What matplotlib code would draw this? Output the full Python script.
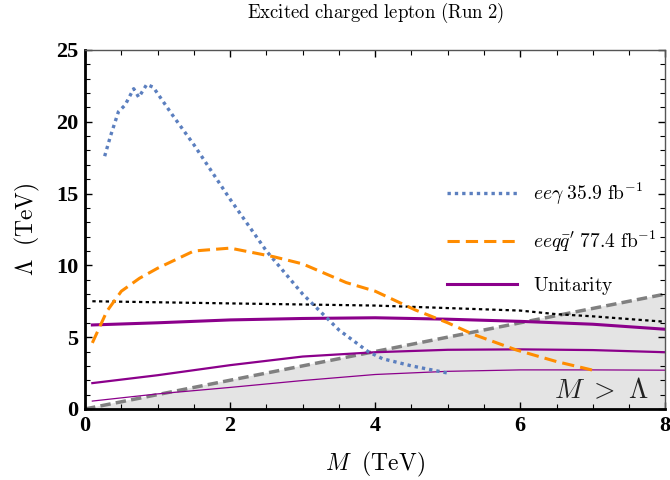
import numpy as np
import matplotlib
matplotlib.use("Agg")
import matplotlib.pyplot as plt
from matplotlib.lines import Line2D
from matplotlib.ticker import MultipleLocator

plt.rcParams['mathtext.fontset'] = 'cm'
plt.rcParams['font.family'] = ['Liberation Serif', 'DejaVu Serif']

# data
eeg_M = [0.27, 0.35, 0.46, 0.55, 0.67, 0.74, 0.85, 0.94, 1.2, 1.5, 2.0, 2.5, 3.0, 3.5, 3.9, 4.1, 4.5, 5.0]
eeg_L = [17.6, 19.0, 20.7, 21.15, 22.3, 21.7, 22.6, 22.4, 20.5, 18.4, 14.6, 11.0, 8.0, 5.5, 4.0, 3.5, 3.0, 2.5]

eeqq_M = [0.1, 0.3, 0.5, 0.75, 1.0, 1.5, 2.0, 2.6, 3.0, 3.6, 4.0, 4.55, 5.0, 5.35, 5.95, 6.5, 7.0]
eeqq_L = [4.6, 6.8, 8.2, 9.1, 9.8, 11.0, 11.2, 10.6, 10.1, 8.8, 8.2, 6.9, 6.0, 5.2, 4.1, 3.3, 2.7]

blk_M = [0.1, 2.0, 4.0, 6.0, 6.5, 7.0, 8.0]
blk_L = [7.5, 7.35, 7.2, 6.85, 6.6, 6.45, 6.07]

u1_M = [0.1, 1.0, 2.0, 3.0, 4.0, 5.0, 6.0, 7.0, 8.0]
u1_L = [5.85, 6.0, 6.2, 6.3, 6.35, 6.25, 6.1, 5.9, 5.55]
u2_M = [0.1, 1.0, 2.0, 3.0, 4.0, 5.0, 6.0, 7.0, 8.0]
u2_L = [1.8, 2.35, 3.05, 3.65, 3.95, 4.12, 4.15, 4.1, 3.95]
u3_M = [0.1, 1.0, 2.0, 3.0, 4.0, 5.0, 6.0, 7.0, 8.0]
u3_L = [0.55, 1.05, 1.5, 1.98, 2.4, 2.62, 2.72, 2.72, 2.7]

diag_M = [0.0, 8.0]

labels = [r'$ee\gamma\ 35.9\ \mathrm{fb}^{-1}$', r"$ee q\bar{q}'\ 77.4\ \mathrm{fb}^{-1}$", r'$\mathrm{Unitarity}$']

fig = plt.figure(figsize=(6.7, 4.8), dpi=100)
ax = fig.add_axes([0.127, 0.148, 0.866, 0.748])

ax.fill_between(diag_M, [0, 0], diag_M, color='#e4e4e4', zorder=0)
ax.plot(diag_M, diag_M, color='#808080', lw=2.5, ls=(0, (3, 1.5)), zorder=1)

ax.plot(blk_M, blk_L, color='black', lw=1.6, ls=(0, (1.5, 1.5)), zorder=2)
ax.plot(u1_M, u1_L, color='#8b008b', lw=2.2, zorder=2)
ax.plot(u2_M, u2_L, color='#8b008b', lw=1.6, zorder=2)
ax.plot(u3_M, u3_L, color='#8b008b', lw=0.9, zorder=2)
ax.plot(eeg_M, eeg_L, color='#5b7fbf', lw=2.4, ls=(0, (1, 1.2)), zorder=3)
ax.plot(eeqq_M, eeqq_L, color='#ff8c00', lw=2.2, ls=(0, (4, 2)), zorder=3)

ax.set_xlim(0, 8)
ax.set_ylim(0, 25)
ax.xaxis.set_major_locator(MultipleLocator(2))
ax.xaxis.set_minor_locator(MultipleLocator(0.5))
ax.yaxis.set_major_locator(MultipleLocator(5))
ax.yaxis.set_minor_locator(MultipleLocator(1))
ax.tick_params(which='both', direction='in', top=True, right=True)
ax.tick_params(which='major', length=5, width=1.0, labelsize=16)
ax.tick_params(which='minor', length=3.5, width=0.8)
for lab in ax.get_xticklabels() + ax.get_yticklabels():
    lab.set_fontweight('bold')
ax.tick_params(axis='x', pad=5)
ax.tick_params(axis='y', pad=5)
for s in ['left', 'bottom']:
    ax.spines[s].set_linewidth(2.0)
for s in ['top', 'right']:
    ax.spines[s].set_linewidth(1.0)
    ax.spines[s].set_color('#555555')

ax.set_xlabel(r'$M\ \ (\mathrm{TeV})$', fontsize=17, labelpad=10)
ax.set_ylabel(r'$\Lambda\ \ (\mathrm{TeV})$', fontsize=17, labelpad=10)
fig.text(0.5 * (0.127 + 0.993), 1 - 13 / 480, r'$\mathrm{Excited\ charged\ lepton\ (Run\ 2)}$',
         fontsize=13.5, ha='center', va='center')

ax.text(0.972, 0.012, r'$M\ >\ \Lambda$', transform=ax.transAxes, ha='right', va='bottom', fontsize=20, color='#222222')

handles = [Line2D([], [], color='#5b7fbf', lw=2.4, ls=(0, (1, 1.2))),
           Line2D([], [], color='#ff8c00', lw=2.2, ls=(0, (4, 2))),
           Line2D([], [], color='#8b008b', lw=2.2)]
ypos = [0.599, 0.468, 0.343]
for i, (h, lab, y) in enumerate(zip(handles, labels, ypos)):
    leg = ax.legend([h], [lab], loc='center left', bbox_to_anchor=(0.624, y), frameon=False,
                    fontsize=14, handlelength=3.6, handletextpad=0.8, borderaxespad=0, borderpad=0)
    if i < 2:
        ax.add_artist(leg)

fig.savefig('out.png', dpi=100)
